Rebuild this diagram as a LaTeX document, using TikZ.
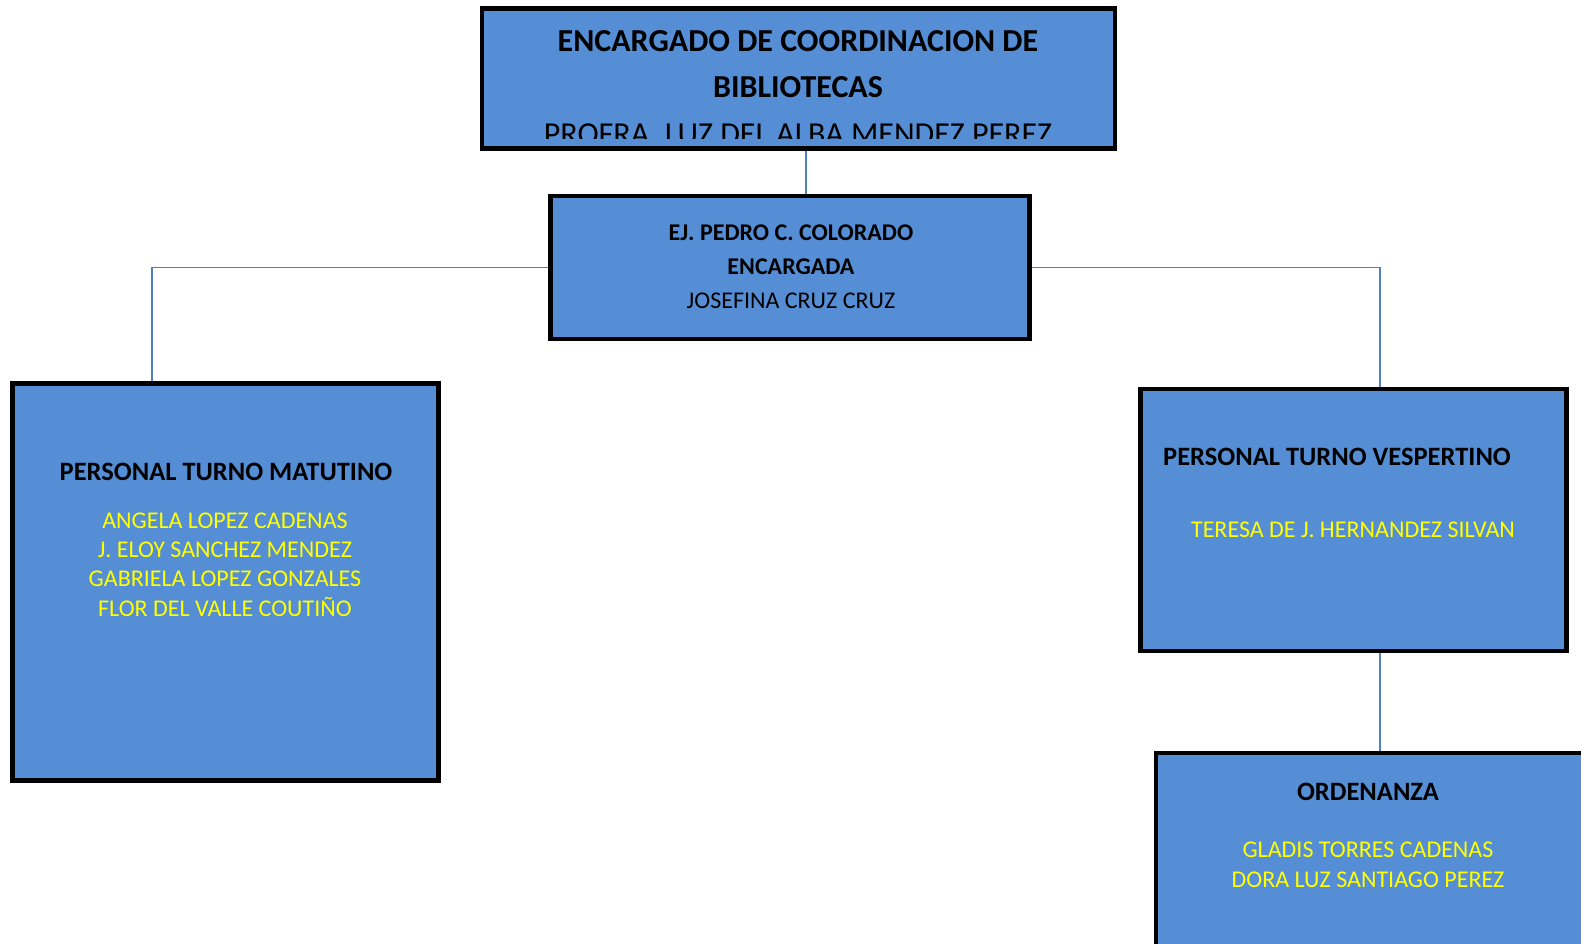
\documentclass[tikz,border=0pt]{standalone}
\usepackage{fontspec}
\setmainfont{Carlito}
\usepackage{xcolor}
\usetikzlibrary{positioning}

\definecolor{boxblue}{RGB}{85,142,213}
\definecolor{linkblue}{RGB}{79,129,189}
\definecolor{nameyellow}{RGB}{255,255,0}

\tikzset{
    orgbox/.style={draw=black, line width=4.5pt, fill=boxblue, inner sep=0pt},
    link/.style={draw=linkblue, line width=1.5pt},
    head/.style={font=\bfseries\fontsize{26.5}{32}\selectfont, inner sep=0pt, align=center},
    names/.style={text=nameyellow, font=\fontsize{24}{29.2}\selectfont, inner sep=0pt, align=center}
}

\begin{document}
\begin{tikzpicture}[x=1pt, y=-1pt]
        \useasboundingbox (0, 0) rectangle (1581, 943);
        \clip (0, 0) rectangle (1581, 943);

        % boxes
        \node[orgbox, minimum width=633pt, minimum height=140pt] (coord) at (798.5, 78.5) {};
        \node[orgbox, minimum width=479pt, minimum height=143pt] (jefa) at (790, 267.5) {};
        \node[orgbox, minimum width=426pt, minimum height=397pt] (matutino) at (225.5, 582) {};
        \node[orgbox, minimum width=426pt, minimum height=262pt] (vespertino) at (1353.5, 520) {};
        \node[orgbox, minimum width=434pt, minimum height=207pt] (ordenanza) at (1373, 856.5) {};

        % connectors
        \draw[link] ([xshift=7.5pt]coord.south) -- ([xshift=16pt]jefa.north);
        \draw[link] (jefa.west) -| ([xshift=-73.5pt]matutino.north);
        \draw[link] (jefa.east) -| ([xshift=26.5pt]vespertino.north);
        \draw[link] ([xshift=26.5pt]vespertino.south) -- ([xshift=7pt]ordenanza.north);

        % texts (anchor base = last line)
        \begin{scope}
            \clip (484, 11) rectangle (1113, 138.5);
            \node[head, font=\bfseries\fontsize{32}{46.3}\selectfont, anchor=base] (coordtxt) at (798, 144)
                {ENCARGADO DE COORDINACION DE\\BIBLIOTECAS\\\mdseries PROFRA. LUZ DEL ALBA MENDEZ PEREZ};
        \end{scope}
        \node[head, font=\bfseries\fontsize{24}{33.7}\selectfont, anchor=base] (jefatxt) at (791, 308)
            {EJ. PEDRO C. COLORADO\\ENCARGADA\\\mdseries JOSEFINA CRUZ CRUZ};

        \node[head, anchor=base] (matutinotxt) at (226, 480) {PERSONAL TURNO MATUTINO};
        \node[names, anchor=base] (matutinonames) at (225, 616)
            {ANGELA LOPEZ CADENAS\\J. ELOY SANCHEZ MENDEZ\\GABRIELA LOPEZ GONZALES\\FLOR DEL VALLE COUTIÑO};

        \node[head, anchor=base] (vespertinotxt) at (1337, 465) {PERSONAL TURNO VESPERTINO};
        \node[names, anchor=base] (vespertinonames) at (1353, 537) {TERESA DE J. HERNANDEZ SILVAN};

        \node[head, anchor=base] (ordenanzatxt) at (1368, 800) {ORDENANZA};
        \node[names, anchor=base] (ordenanzanames) at (1368, 887)
            {GLADIS TORRES CADENAS\\DORA LUZ SANTIAGO PEREZ};
    \end{tikzpicture}
\end{document}
